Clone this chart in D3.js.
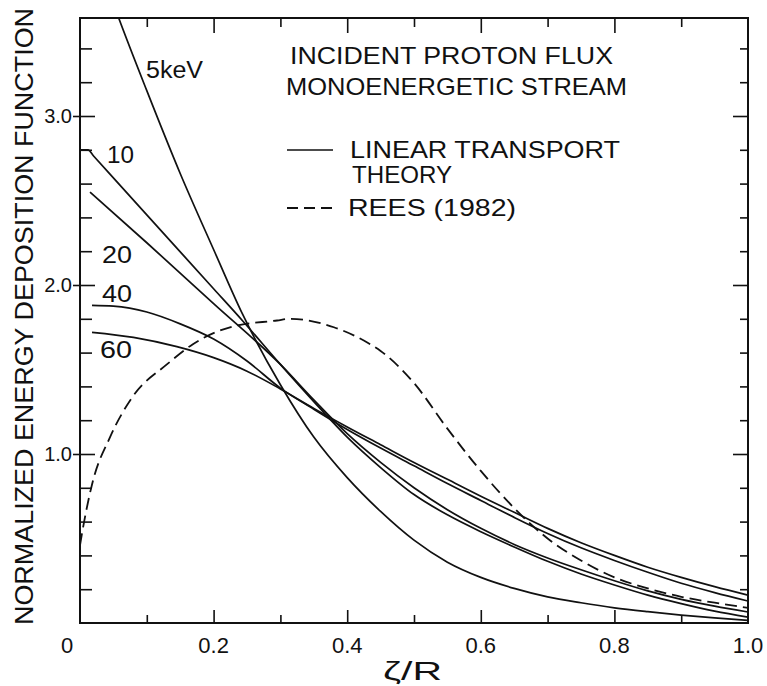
<!DOCTYPE html>
<html><head><meta charset="utf-8">
<script src="https://cdn.jsdelivr.net/npm/d3@7"></script>
<style>body{margin:0;background:#fff}svg{display:block}text{font-family:"Liberation Sans",Arial,sans-serif;fill:#111}</style>
</head><body>
<svg id="chart" width="767" height="686"></svg>
<script>
// ---- data ----
const xTickLabels = ["0","0.2","0.4","0.6","0.8","1.0"];
const xTickValues = [0,0.2,0.4,0.6,0.8,1.0];
const xMinorValues = [0.1,0.3,0.5,0.7,0.9];
const yTickLabels = ["1.0","2.0","3.0"];
const yTickValues = [1,2,3];
const yMinorValues = [0.2,0.4,0.6,0.8,1.2,1.4,1.6,1.8,2.2,2.4,2.6,2.8,3.2,3.4];

const kev5 = [[0.045,3.72],[0.057,3.59],[0.10,3.15],[0.15,2.66],[0.20,2.21],[0.243,1.83],[0.30,1.41],[0.35,1.10],[0.40,0.86],[0.45,0.66],[0.50,0.49],[0.55,0.36],[0.60,0.27],[0.65,0.205],[0.70,0.155],[0.75,0.12],[0.80,0.09],[0.85,0.067],[0.90,0.047],[0.95,0.03],[1.0,0.015]];
const kev10 = [[0.0,2.80],[0.012,2.80],[0.02,2.765],[0.10,2.415],[0.20,1.978],[0.243,1.79],[0.30,1.53],[0.35,1.31],[0.40,1.10],[0.45,0.92],[0.50,0.76],[0.55,0.64],[0.60,0.54],[0.65,0.45],[0.70,0.365],[0.75,0.29],[0.80,0.225],[0.85,0.165],[0.90,0.115],[0.95,0.07],[1.0,0.035]];
const kev20 = [[0.015,2.55],[0.10,2.25],[0.20,1.89],[0.30,1.53],[0.35,1.32],[0.40,1.12],[0.45,0.95],[0.50,0.80],[0.55,0.67],[0.60,0.56],[0.65,0.465],[0.70,0.385],[0.75,0.315],[0.80,0.25],[0.85,0.19],[0.90,0.14],[0.95,0.10],[1.0,0.065]];
const kev40 = [[0.018,1.88],[0.05,1.875],[0.10,1.84],[0.15,1.77],[0.20,1.68],[0.25,1.55],[0.30,1.39],[0.35,1.265],[0.40,1.145],[0.45,1.035],[0.50,0.93],[0.55,0.825],[0.60,0.725],[0.65,0.625],[0.70,0.53],[0.75,0.445],[0.80,0.37],[0.85,0.30],[0.90,0.235],[0.95,0.18],[1.0,0.13]];
const kev60 = [[0.018,1.72],[0.08,1.69],[0.145,1.635],[0.20,1.57],[0.25,1.49],[0.30,1.385],[0.35,1.27],[0.40,1.16],[0.45,1.055],[0.50,0.95],[0.55,0.85],[0.60,0.75],[0.65,0.655],[0.70,0.56],[0.75,0.475],[0.80,0.40],[0.85,0.33],[0.90,0.27],[0.95,0.215],[1.0,0.165]];
const rees = [[0.0,0.46],[0.003,0.53],[0.018,0.82],[0.045,1.10],[0.079,1.34],[0.13,1.53],[0.169,1.65],[0.229,1.755],[0.295,1.79],[0.314,1.80],[0.38,1.75],[0.43,1.66],[0.45,1.61],[0.50,1.42],[0.55,1.15],[0.60,0.90],[0.65,0.68],[0.70,0.50],[0.75,0.37],[0.80,0.27],[0.85,0.205],[0.90,0.155],[0.95,0.12],[1.0,0.09]];

const curveLabels = ["5keV","10","20","40","60"];
const titleLines = ["INCIDENT PROTON FLUX","MONOENERGETIC STREAM"];
const legendLabels = ["LINEAR TRANSPORT","THEORY","REES (1982)"];
const xTitle = "\u03B6/R";
const yTitle = "NORMALIZED ENERGY DEPOSITION FUNCTION";

// ---- layout ----
const L = 80, R = 748, T = 18, B = 623;
const x = d3.scaleLinear().domain([0,1]).range([L,R]);
const y = d3.scaleLinear().domain([0,(B-T)/169]).range([B,T]);
const svg = d3.select("#chart");

svg.append("clipPath").attr("id","clip").append("rect")
  .attr("x",L).attr("y",T).attr("width",R-L).attr("height",B-T);

const line = d3.line().x(d=>x(d[0])).y(d=>y(d[1])).curve(d3.curveMonotoneX);
const g = svg.append("g").attr("clip-path","url(#clip)");
[kev5,kev10,kev20,kev40,kev60].forEach(s=>{
  g.append("path").attr("d",line(s)).attr("fill","none").attr("stroke","#111").attr("stroke-width",1.7);
});
g.append("path").attr("d",line(rees)).attr("fill","none").attr("stroke","#111")
  .attr("stroke-width",1.8).attr("stroke-dasharray","12,6");

// frame
svg.append("rect").attr("x",L).attr("y",T).attr("width",R-L).attr("height",B-T)
  .attr("fill","none").attr("stroke","#111").attr("stroke-width",2);

function styleAxis(sel){ sel.select(".domain").remove(); sel.selectAll("line").attr("stroke","#111").attr("stroke-width",1.6); }

// bottom ticks
svg.append("g").attr("transform",`translate(0,${B})`)
  .call(d3.axisBottom(x).tickValues(xTickValues.slice(1,-1)).tickSize(-13).tickFormat("")).call(styleAxis);
svg.append("g").attr("transform",`translate(0,${B})`)
  .call(d3.axisBottom(x).tickValues(xMinorValues).tickSize(-8).tickFormat("")).call(styleAxis);
// top ticks
svg.append("g").attr("transform",`translate(0,${T})`)
  .call(d3.axisTop(x).tickValues(xTickValues.slice(1,-1)).tickSize(-15).tickFormat("")).call(styleAxis);
svg.append("g").attr("transform",`translate(0,${T})`)
  .call(d3.axisTop(x).tickValues(xMinorValues).tickSize(-9).tickFormat("")).call(styleAxis);
// left ticks
svg.append("g").attr("transform",`translate(${L},0)`)
  .call(d3.axisLeft(y).tickValues(yMinorValues).tickSize(-12).tickFormat("")).call(styleAxis);
const yl = svg.append("g").attr("transform",`translate(${L},0)`)
  .call(d3.axisLeft(y).tickValues(yTickValues).tickSize(-15).tickFormat("")).call(styleAxis);
yl.selectAll(".tick").append("line").attr("x1",0).attr("x2",-7).attr("stroke","#111").attr("stroke-width",1.6);
// right ticks
svg.append("g").attr("transform",`translate(${R},0)`)
  .call(d3.axisRight(y).tickValues(yMinorValues).tickSize(-8).tickFormat("")).call(styleAxis);
svg.append("g").attr("transform",`translate(${R},0)`)
  .call(d3.axisRight(y).tickValues(yTickValues).tickSize(-15).tickFormat("")).call(styleAxis);

// tick labels
svg.append("g").selectAll("text").data(xTickValues).join("text")
  .attr("x",(d,i)=>x(d)+(i===0?-13:0)).attr("y",653)
  .attr("text-anchor","middle").attr("font-size",22).text((d,i)=>xTickLabels[i]);
svg.append("g").selectAll("text").data(yTickValues).join("text")
  .attr("x",72).attr("y",d=>y(d)).attr("dy","0.36em")
  .attr("text-anchor","end").attr("font-size",20).text((d,i)=>yTickLabels[i]);

// axis titles
svg.append("text").attr("x",383).attr("y",680).attr("font-size",25)
  .attr("textLength",59).attr("lengthAdjust","spacingAndGlyphs").text(xTitle);
svg.append("text").attr("transform","translate(33,625) rotate(-90)").attr("x",0).attr("y",0)
  .attr("font-size",26).attr("textLength",617).attr("lengthAdjust","spacingAndGlyphs").text(yTitle);

// title block
const tb = [[290,64,323],[286,95,341]];
titleLines.forEach((t,i)=>{
  svg.append("text").attr("x",tb[i][0]).attr("y",tb[i][1]).attr("font-size",24)
    .attr("textLength",tb[i][2]).attr("lengthAdjust","spacingAndGlyphs").text(t);
});
// legend
svg.append("line").attr("x1",287).attr("x2",333).attr("y1",150).attr("y2",150).attr("stroke","#111").attr("stroke-width",1.7);
svg.append("line").attr("x1",287).attr("x2",335).attr("y1",208).attr("y2",208).attr("stroke","#111").attr("stroke-width",1.8).attr("stroke-dasharray","11,6");
const lb = [[350,158,270],[352,183,100],[348,216,168]];
legendLabels.forEach((t,i)=>{
  svg.append("text").attr("x",lb[i][0]).attr("y",lb[i][1]).attr("font-size",24)
    .attr("textLength",lb[i][2]).attr("lengthAdjust","spacingAndGlyphs").text(t);
});
// curve labels
const cl = [[146,78,57,23],[107,163,27,23],[102,263,30,23],[102,302,30,23],[100,358,32,23]];
curveLabels.forEach((t,i)=>{
  svg.append("text").attr("x",cl[i][0]).attr("y",cl[i][1]).attr("font-size",cl[i][3])
    .attr("textLength",cl[i][2]).attr("lengthAdjust","spacingAndGlyphs").text(t);
});
</script>
</body></html>
